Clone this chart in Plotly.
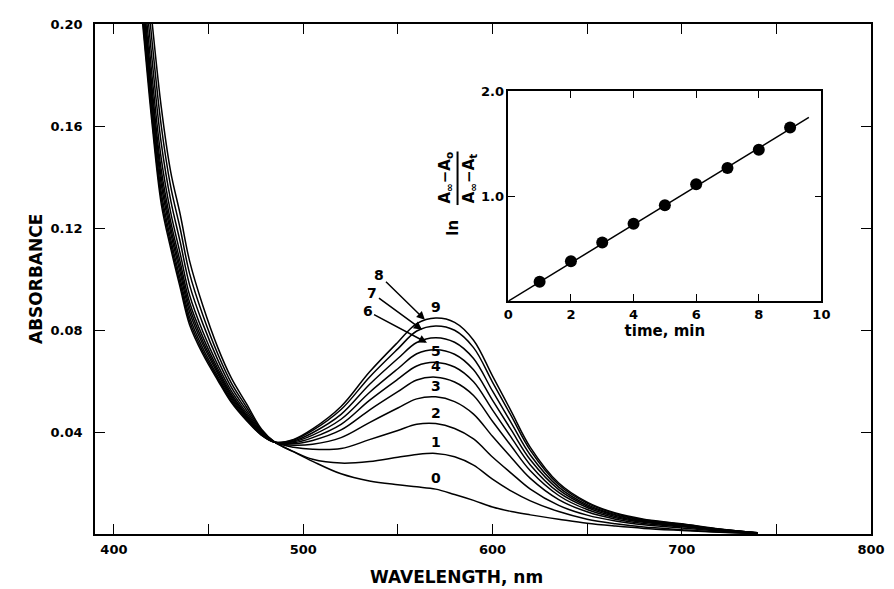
import plotly.graph_objects as go

# ---------------- data ----------------
wavelength = [410, 415, 420, 425, 430, 435, 440, 447, 455, 462, 470, 478, 485, 495, 505, 520,
              535, 550, 560, 570, 580, 590, 600, 610, 620, 635, 650, 665, 680, 700, 720, 740]

A0 = [0.2795, 0.2405, 0.2020, 0.1675, 0.1420, 0.1254, 0.1070, 0.0895, 0.0729, 0.0612, 0.0511, 0.0411,
      0.0360, 0.0322, 0.0285, 0.0236, 0.0208, 0.0193, 0.0185, 0.0176, 0.0155, 0.0132, 0.0106, 0.0088,
      0.0075, 0.0058, 0.0042, 0.0031, 0.0022, 0.0014, 0.0007, 0.0002]
A1 = [0.2719, 0.2329, 0.1942, 0.1601, 0.1362, 0.1198, 0.1021, 0.0858, 0.0704, 0.0593, 0.0498, 0.0406,
      0.0360, 0.0323, 0.0293, 0.0278, 0.0284, 0.0301, 0.0312, 0.0316, 0.0303, 0.0270, 0.0215, 0.0168,
      0.0130, 0.0088, 0.0058, 0.0040, 0.0027, 0.0017, 0.0008, 0.0002]
A2 = [0.2649, 0.2259, 0.1870, 0.1533, 0.1308, 0.1146, 0.0976, 0.0824, 0.0681, 0.0576, 0.0486, 0.0402,
      0.0360, 0.0340, 0.0332, 0.0335, 0.0370, 0.0406, 0.0430, 0.0433, 0.0414, 0.0373, 0.0302, 0.0238,
      0.0176, 0.0112, 0.0074, 0.0051, 0.0036, 0.0024, 0.0012, 0.0003]
A3 = [0.2586, 0.2196, 0.1806, 0.1472, 0.1260, 0.1100, 0.0936, 0.0793, 0.0660, 0.0561, 0.0476, 0.0398,
      0.0360, 0.0348, 0.0352, 0.0378, 0.0437, 0.0494, 0.0530, 0.0538, 0.0519, 0.0470, 0.0383, 0.0299,
      0.0218, 0.0135, 0.0087, 0.0058, 0.0041, 0.0028, 0.0014, 0.0004]
A4 = [0.2542, 0.2152, 0.1760, 0.1428, 0.1225, 0.1067, 0.0908, 0.0772, 0.0646, 0.0550, 0.0468, 0.0395,
      0.0360, 0.0354, 0.0367, 0.0408, 0.0486, 0.0558, 0.0604, 0.0615, 0.0596, 0.0543, 0.0442, 0.0344,
      0.0248, 0.0151, 0.0096, 0.0064, 0.0046, 0.0031, 0.0016, 0.0004]
A5 = [0.2510, 0.2120, 0.1728, 0.1398, 0.1201, 0.1044, 0.0888, 0.0756, 0.0636, 0.0542, 0.0463, 0.0393,
      0.0360, 0.0358, 0.0378, 0.0430, 0.0524, 0.0607, 0.0659, 0.0673, 0.0655, 0.0597, 0.0487, 0.0378,
      0.0271, 0.0163, 0.0104, 0.0069, 0.0049, 0.0033, 0.0017, 0.0004]
A6 = [0.2483, 0.2093, 0.1700, 0.1371, 0.1180, 0.1024, 0.0870, 0.0743, 0.0627, 0.0535, 0.0458, 0.0392,
      0.0360, 0.0362, 0.0388, 0.0450, 0.0555, 0.0648, 0.0707, 0.0723, 0.0705, 0.0644, 0.0525, 0.0407,
      0.0291, 0.0174, 0.0110, 0.0073, 0.0051, 0.0035, 0.0018, 0.0004]
A7 = [0.2452, 0.2062, 0.1668, 0.1341, 0.1156, 0.1001, 0.0850, 0.0728, 0.0616, 0.0528, 0.0453, 0.0390,
      0.0360, 0.0365, 0.0397, 0.0469, 0.0586, 0.0688, 0.0751, 0.0770, 0.0752, 0.0688, 0.0561, 0.0435,
      0.0310, 0.0184, 0.0115, 0.0076, 0.0054, 0.0037, 0.0019, 0.0005]
A8 = [0.2426, 0.2036, 0.1642, 0.1316, 0.1137, 0.0982, 0.0834, 0.0715, 0.0608, 0.0521, 0.0449, 0.0388,
      0.0360, 0.0369, 0.0406, 0.0488, 0.0615, 0.0726, 0.0796, 0.0816, 0.0799, 0.0731, 0.0596, 0.0462,
      0.0328, 0.0193, 0.0121, 0.0080, 0.0056, 0.0039, 0.0019, 0.0005]
A9 = [0.2405, 0.2015, 0.1620, 0.1295, 0.1120, 0.0966, 0.0820, 0.0705, 0.0601, 0.0516, 0.0445, 0.0387,
      0.0360, 0.0371, 0.0412, 0.0500, 0.0635, 0.0752, 0.0825, 0.0847, 0.0830, 0.0760, 0.0620, 0.0480,
      0.0340, 0.0200, 0.0125, 0.0082, 0.0058, 0.0040, 0.0020, 0.0005]

curve_names = ["0", "1", "2", "3", "4", "5", "6", "7", "8", "9"]
spectra = [A0, A1, A2, A3, A4, A5, A6, A7, A8, A9]

x_tick_vals = [400, 500, 600, 700, 800]
x_minor_vals = [450, 550, 650, 750]
y_tick_vals = [0.04, 0.08, 0.12, 0.16, 0.20]
y_tick_text = ["0.04", "0.08", "0.12", "0.16", "0.20"]

# inset data
time_min = [1, 2, 3, 4, 5, 6, 7, 8, 9]
ln_ratio = [0.184, 0.381, 0.559, 0.737, 0.914, 1.114, 1.267, 1.441, 1.654]
fit_time = [0, 9.6]
fit_ln = [0, 1.75]
inset_x_ticks = [0, 2, 4, 6, 8, 10]
inset_y_ticks = [1.0, 2.0]
inset_y_text = ["1.0", "2.0"]

# ---------------- figure ----------------
FONT = "DejaVu Sans"
fig = go.Figure()

for name, a in zip(curve_names, spectra):
    fig.add_trace(go.Scatter(x=wavelength, y=a, mode="lines", name=name,
                             line=dict(color="black", width=1.5, shape="spline", smoothing=1.0),
                             showlegend=False, hoverinfo="skip"))

fig.add_trace(go.Scatter(x=fit_time, y=fit_ln, mode="lines", xaxis="x2", yaxis="y2",
                         line=dict(color="black", width=1.5), showlegend=False))
fig.add_trace(go.Scatter(x=time_min, y=ln_ratio, mode="markers", xaxis="x2", yaxis="y2",
                         marker=dict(color="black", size=12), showlegend=False))

tickfont = dict(family=FONT, size=13, color="black", weight="bold")

# page body has an 8px margin: figure is sized/margined to place the plot area correctly
fig.update_layout(
    width=886, height=581,
    margin=dict(l=87, r=16, t=9, b=55),
    paper_bgcolor="white", plot_bgcolor="white",
    xaxis=dict(range=[390, 800], tickvals=x_tick_vals, ticks="inside", ticklen=10, tickwidth=1.3,
               minor=dict(tickvals=x_minor_vals, ticks="inside", ticklen=10, tickwidth=1.3, tickcolor="black"),
               showline=True, linecolor="black", linewidth=1.8, mirror="ticks", showgrid=False,
               zeroline=False, tickfont=tickfont, tickcolor="black", ticklabelstandoff=2),
    yaxis=dict(range=[0, 0.2], tickvals=y_tick_vals, ticktext=y_tick_text, ticks="inside",
               ticklen=10, tickwidth=1.3, showline=True, linecolor="black", linewidth=1.8,
               mirror="ticks", showgrid=False, zeroline=False, tickfont=tickfont, tickcolor="black",
               ticklabelstandoff=8),
    xaxis2=dict(domain=[0.5326, 0.9361], anchor="y2", range=[0, 10], tickvals=inset_x_ticks,
                ticks="inside", ticklen=7, tickwidth=1.3, showline=True, linecolor="black",
                linewidth=1.5, mirror="ticks", showgrid=False, zeroline=False, tickfont=tickfont,
                tickcolor="black",
                title=dict(text="<b>time, min</b>", font=dict(family=FONT, size=15, color="black"),
                           standoff=2)),
    yaxis2=dict(domain=[0.4565, 0.8685], anchor="x2", range=[0, 2], tickvals=inset_y_ticks,
                ticktext=inset_y_text, ticks="inside", ticklen=7, tickwidth=1.3, showline=True,
                linecolor="black", linewidth=1.5, mirror="ticks", showgrid=False, zeroline=False,
                tickfont=tickfont, tickcolor="black"),
)

ann = []
# axis titles
ann.append(dict(text="<b>WAVELENGTH, nm</b>", xref="paper", yref="paper", x=0.466, y=-0.085,
                showarrow=False, font=dict(family=FONT, size=17, color="black"),
                xanchor="center", yanchor="middle"))
ann.append(dict(text="<b>ABSORBANCE</b>", xref="paper", yref="paper", x=-0.076, y=0.5,
                showarrow=False, textangle=-90, font=dict(family=FONT, size=17, color="black"),
                xanchor="center", yanchor="middle"))

# curve labels sitting on peaks
peak_wl = wavelength.index(570)
for name in ["0", "1", "2", "3", "4", "5", "9"]:
    a = spectra[int(name)]
    ann.append(dict(text="<b>%s</b>" % name, x=570, y=a[peak_wl], xref="x", yref="y",
                    showarrow=False, yanchor="bottom", xanchor="center", yshift=1,
                    font=dict(family=FONT, size=14, color="black")))

# arrowed labels 6, 7, 8
arrows = [("8", 564.3, 0.0840, 540.3, 0.1014),
          ("7", 562.8, 0.0801, 536.6, 0.0944),
          ("6", 565.4, 0.0750, 534.0, 0.0874)]
for lab, xt, yt, xa, ya in arrows:
    ann.append(dict(text="<b>%s</b>" % lab, x=xt, y=yt, xref="x", yref="y",
                    ax=xa, ay=ya, axref="x", ayref="y", showarrow=True,
                    arrowhead=2, arrowsize=1.1, arrowwidth=1.5, arrowcolor="black",
                    font=dict(family=FONT, size=14, color="black")))

# inset y label: ln (A∞−Ao)/(A∞−At)
frac_font = dict(family=FONT, size=15, color="black")
ann.append(dict(text="<b>ln</b>", xref="paper", yref="paper", x=0.4610, y=0.600,
                showarrow=False, textangle=-90, font=frac_font, xanchor="center", yanchor="middle"))
ann.append(dict(text="<b>A<sub>∞</sub>−A<sub>o</sub></b>", xref="paper", yref="paper",
                x=0.4520, y=0.6983, showarrow=False, textangle=-90, font=frac_font,
                xanchor="center", yanchor="middle"))
ann.append(dict(text="<b>A<sub>∞</sub>−A<sub>t</sub></b>", xref="paper", yref="paper",
                x=0.4825, y=0.6983, showarrow=False, textangle=-90, font=frac_font,
                xanchor="center", yanchor="middle"))
fig.update_layout(annotations=ann)

fig.add_shape(type="line", xref="paper", yref="paper", x0=0.4672, x1=0.4672, y0=0.645, y1=0.750,
              line=dict(color="black", width=2))

fig.write_html("out.html")
